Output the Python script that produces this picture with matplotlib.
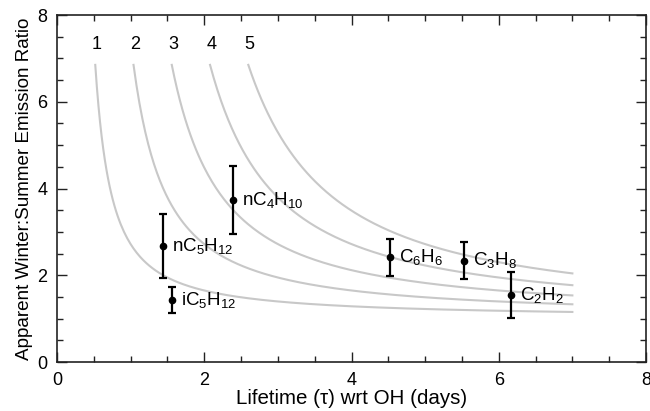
import numpy as np
import matplotlib
matplotlib.use("Agg")
import matplotlib.pyplot as plt
from matplotlib.ticker import MultipleLocator

plt.rcParams['font.family'] = ['Liberation Sans', 'DejaVu Sans']
plt.rcParams['mathtext.fontset'] = 'custom'
plt.rcParams['mathtext.rm'] = 'Liberation Sans'
plt.rcParams['mathtext.it'] = 'Liberation Sans:italic'
plt.rcParams['mathtext.bf'] = 'Liberation Sans:bold'

# Observed species: OH lifetime (days), winter:summer ratio and uncertainty
species = [r"nC$_5$H$_{12}$", r"nC$_4$H$_{10}$", r"iC$_5$H$_{12}$",
           r"C$_6$H$_6$", r"C$_3$H$_8$", r"C$_2$H$_2$"]
lifetime = [1.44, 2.39, 1.56, 4.52, 5.53, 6.16]
ratio = [2.68, 3.74, 1.43, 2.41, 2.34, 1.55]
ratio_err = [0.74, 0.79, 0.29, 0.42, 0.42, 0.53]

# Model curves: ratio = exp(dt / tau) for seasonal lifetime differences dt
curve_dt = [1, 2, 3, 4, 5]
curve_labels = ["1", "2", "3", "4", "5"]
ratio_cap = 6.85
tau_max = 7.0

fig = plt.figure(figsize=(6.5, 4.11), dpi=100)
ax = fig.add_axes([57 / 650, 49 / 411, 589 / 650, 347 / 411])

for dt, lab in zip(curve_dt, curve_labels):
    tau0 = dt / np.log(ratio_cap)
    tau = np.linspace(tau0, tau_max, 300)
    ax.plot(tau, np.exp(dt / tau), color="#c8c8c8", lw=1.5, zorder=1)
    ax.text(tau0 + 0.02, 7.33, lab, fontsize=13, ha="center", va="center")

ax.errorbar(lifetime, ratio, yerr=ratio_err, fmt="o", color="black",
            ms=4.5, lw=1.6, capsize=3, capthick=1.6, zorder=3)

for x, y, name in zip(lifetime, ratio, species):
    ax.annotate(name, (x, y), xytext=(6.5, -3.5), textcoords="offset points",
                fontsize=13.5, ha="left", va="baseline")

ax.set_xlim(0, 8)
ax.set_ylim(0, 8)
ax.xaxis.set_major_locator(MultipleLocator(2))
ax.xaxis.set_minor_locator(MultipleLocator(0.5))
ax.yaxis.set_major_locator(MultipleLocator(2))
ax.yaxis.set_minor_locator(MultipleLocator(0.5))
ax.tick_params(which="both", direction="in", top=True, right=True,
               labelsize=13, width=1, color="#222222")
ax.tick_params(which="major", length=7, pad=7)
ax.tick_params(which="minor", length=4)
for sp in ax.spines.values():
    sp.set_linewidth(1.2)
    sp.set_color("#222222")

ax.set_xlabel("Lifetime (\u03c4) wrt OH (days)", fontsize=14.8, labelpad=0)
ax.set_ylabel("Apparent Winter:Summer Emission Ratio", fontsize=13.6, labelpad=3)

fig.savefig("out.png", dpi=100)
